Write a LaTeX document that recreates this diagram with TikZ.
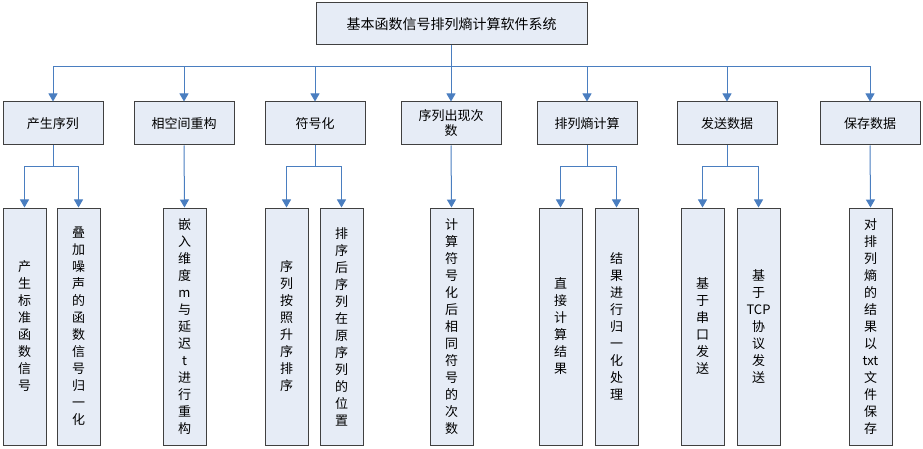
\documentclass[tikz,border=0pt]{standalone}
\usepackage{fontspec}
\setmainfont{Noto Sans CJK SC}
\usetikzlibrary{arrows.meta}
\definecolor{bx}{HTML}{E6ECF6}
\definecolor{ln}{HTML}{4A7EC0}
\begin{document}
\begin{tikzpicture}[x=1pt,y=-1pt,
  box/.style={draw=black!75,line width=1pt,fill=bx,inner sep=0,font=\fontsize{13}{15}\selectfont},
  top/.style={box,minimum width=100pt,minimum height=43pt,align=center},
  leaf/.style={box,minimum width=43pt,minimum height=237pt,align=center,text width=43pt,font=\fontsize{13}{17}\selectfont},
  ar/.style={draw=ln,line width=1pt,-{Triangle[length=8pt,width=9pt]}}]
\useasboundingbox (0,0) rectangle (923,449);
\node[box,minimum width=271pt,minimum height=42pt,font=\fontsize{14}{16}\selectfont] (root) at (451.5,24) {基本函数信号排列熵计算软件系统};
\node[top] (a) at (53,123.5) {产生序列};
\node[top] (b) at (184,123.5) {相空间重构};
\node[top] (c) at (315,123.5) {符号化};
\node[top] (d) at (451,123.5) {序列出现次\\数};
\node[top] (e) at (587,123.5) {排列熵计算};
\node[top] (f) at (727,123.5) {发送数据};
\node[top] (g) at (870,123.5) {保存数据};
\node[leaf] (a1) at (24.5,326.5) {产\\生\\标\\准\\函\\数\\信\\号};
\node[leaf] (a2) at (78.5,326.5) {叠\\加\\噪\\声\\的\\函\\数\\信\\号\\归\\一\\化};
\node[leaf] (b1) at (184.5,326.5) {嵌\\入\\维\\度\\m\\与\\延\\迟\\t\\进\\行\\重\\构};
\node[leaf] (c1) at (286.5,326.5) {序\\列\\按\\照\\升\\序\\排\\序};
\node[leaf] (c2) at (341.5,326.5) {排\\序\\后\\序\\列\\在\\原\\序\\列\\的\\位\\置};
\node[leaf] (d1) at (451.5,326.5) {计\\算\\符\\号\\化\\后\\相\\同\\符\\号\\的\\次\\数};
\node[leaf] (e1) at (560.5,326.5) {直\\接\\计\\算\\结\\果};
\node[leaf] (e2) at (616.5,326.5) {结\\果\\进\\行\\归\\一\\化\\处\\理};
\node[leaf] (f1) at (702.5,326.5) {基\\于\\串\\口\\发\\送};
\node[leaf] (f2) at (758.5,326.5) {基\\于\\TCP\\协\\议\\发\\送};
\node[leaf] (g1) at (870.5,326.5) {对\\排\\列\\熵\\的\\结\\果\\以\\txt\\文\\件\\保\\存};
\foreach \n in {a,b,c,d,e,f,g}
  \draw[ar] (root.south) -- ++(0,21) -| (\n.north);
\foreach \p/\q in {a/a1,a/a2,c/c1,c/c2,e/e1,e/e2,f/f1,f/f2}
  \draw[ar] (\p.south) -- ++(0,21) -| (\q.north);
\foreach \p/\q in {b/b1,d/d1,g/g1}
  \draw[ar] (\p.south) -- (\q.north);
\end{tikzpicture}
\end{document}
